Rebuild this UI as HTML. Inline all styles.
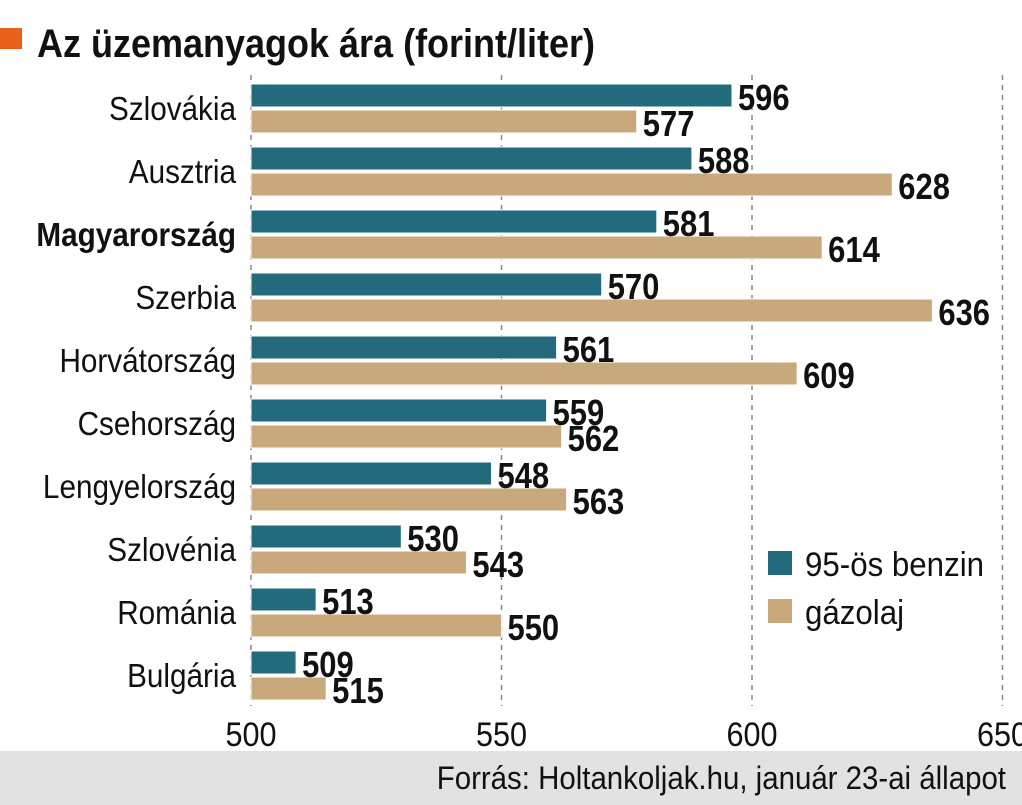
<!DOCTYPE html>
<html><head><meta charset="utf-8"><style>
body{margin:0;background:#fff;}
svg{display:block;font-family:"Liberation Sans Narrow","Liberation Sans",sans-serif;}
</style></head><body>
<svg id="chart" width="1022" height="805" viewBox="0 0 1022 805">
<rect x="0" y="28" width="22" height="21" fill="#e8611a"/>
<text transform="translate(37 57) scale(0.9 1)" font-size="40" font-weight="bold" fill="#111">Az üzemanyagok ára (forint/liter)</text>
<g id="grid"></g>
<g id="bars"></g>
<g id="labels"></g>
<g id="legend">
<rect x="768" y="551" width="24" height="24" fill="#236b7c"/>
<text transform="translate(805 576) scale(0.92 1)" font-size="34" fill="#111">95-ös benzin</text>
<rect x="768" y="599" width="24" height="24" fill="#c9a87c"/>
<text transform="translate(805 624) scale(0.92 1)" font-size="34" fill="#111">gázolaj</text>
</g>
<rect x="0" y="751" width="1022" height="54" fill="#e2e2e2"/>
<text transform="translate(1006 789) scale(0.92 1)" font-size="32" text-anchor="end" fill="#111">Forrás: Holtankoljak.hu, január 23-ai állapot</text>
</svg>
<script>
const categories=["Szlovákia","Ausztria","Magyarország","Szerbia","Horvátország","Csehország","Lengyelország","Szlovénia","Románia","Bulgária"];
const benzin=[596,588,581,570,561,559,548,530,513,509];
const gazolaj=[577,628,614,636,609,562,563,543,550,515];
const ticks=[500,550,600,650];
const NS="http://www.w3.org/2000/svg";
const x=v=>251+(v-500)*5.01;
const rowY=i=>84+i*63;
function mk(tag,attrs,parent){const e=document.createElementNS(NS,tag);for(const k in attrs)e.setAttribute(k,attrs[k]);document.getElementById(parent).appendChild(e);return e;}
ticks.forEach(t=>{
  const l=mk('line',{x1:x(t),x2:x(t),y1:75,y2:706,stroke:'#888','stroke-width':1.5,'stroke-dasharray':'5,5'},'grid');
  
  
  const tx=mk('text',{transform:`translate(${x(t)} 746) scale(0.9 1)`,'font-size':34,'text-anchor':'middle',fill:'#111'},'grid');
  tx.textContent=t;
  
  
});
categories.forEach((c,i)=>{
  const y=rowY(i);
  const cl=mk('text',{transform:`translate(236 ${y+36}) scale(0.9 1)`,'font-size':33,'text-anchor':'end',fill:'#111','font-weight':c==='Magyarország'?'bold':'normal'},'labels');
  cl.textContent=c;
  
  
  [[benzin[i],'#236b7c',0,'benzin'],[gazolaj[i],'#c9a87c',26,'gazolaj']].forEach(([v,col,off,nm])=>{
    const b=mk('rect',{x:x(500),y:y+off,width:x(v)-x(500),height:23,fill:col,stroke:'#fff','stroke-width':1},'bars');
    
    
    const t=mk('text',{transform:`translate(${x(v)+6} ${y+off+26}) scale(0.86 1)`,'font-size':36,'font-weight':'bold',fill:'#111'},'labels');
    t.textContent=v;
    
    
  });
});
</script>
</body></html>
